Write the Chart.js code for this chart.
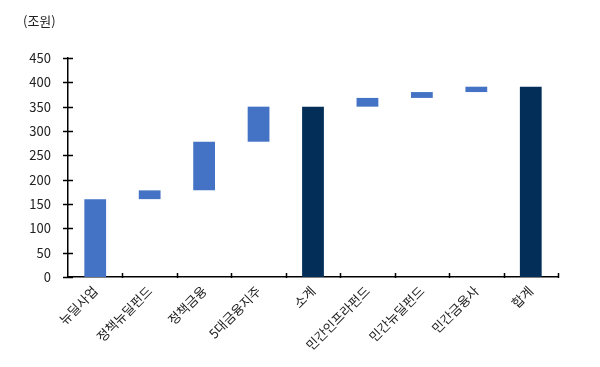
<!DOCTYPE html>
<html>
<head>
<meta charset="utf-8">
<script src="https://cdn.jsdelivr.net/npm/chart.js@4"></script>
<style>
  html, body { margin: 0; padding: 0; background: #fff; }
  #wrap { width: 600px; height: 367px; }
</style>
</head>
<body>
<div id="wrap"><canvas id="c"></canvas></div>
<script>
// categories and values (조원)
const labels = ["뉴딜사업", "정책뉴딜펀드", "정책금융", "5대금융지주", "소계",
                "민간인프라펀드", "민간뉴딜펀드", "민간금융사", "합계"];
const barStart = [0, 160, 178, 278, 0, 350, 368, 380, 0];
const barEnd   = [160, 178, 278, 350, 350, 368, 380, 391, 391];
const isTotal  = [false, false, false, false, true, false, false, false, true];
const yTicks   = [0, 50, 100, 150, 200, 250, 300, 350, 400, 450];

const LIGHT = "#4472C4";
const DARK = "#022E58";
const FONT = "'Noto Sans CJK KR', 'Noto Sans', sans-serif";

// crossing tick marks on both axes + unit label
const axisTicks = {
  id: "axisTicks",
  afterDraw(chart){
    const ctx = chart.ctx;
    const x = chart.scales.x, y = chart.scales.y;
    const area = chart.chartArea;
    ctx.save();
    ctx.strokeStyle = "#000";
    ctx.lineWidth = 1.5;
    ctx.beginPath();
    yTicks.forEach(v => {
      const py = Math.round(y.getPixelForValue(v)) + 0.5;
      ctx.moveTo(area.left - 5, py);
      ctx.lineTo(area.left + 5, py);
    });
    for (let i = 1; i <= labels.length; i++) {
      const px = Math.round(x.getPixelForValue(i - 0.5)) + 0.5;
      ctx.moveTo(px, area.bottom - 4);
      ctx.lineTo(px, area.bottom + 1);
    }
    ctx.stroke();

    ctx.fillStyle = "#222";
    ctx.font = "13px " + FONT;
    ctx.textBaseline = "middle";
    ctx.fillText("(조원)", 23, 21);
    ctx.restore();
  }
};

new Chart(document.getElementById("c"), {
  type: "bar",
  data: {
    labels,
    datasets: [{
      data: barStart.map((s, i) => [s, barEnd[i]]),
      backgroundColor: isTotal.map(t => t ? DARK : LIGHT),
      borderWidth: 0,
      barPercentage: 0.4,
      categoryPercentage: 1
    }]
  },
  options: {
    responsive: true,
    maintainAspectRatio: false,
    animation: false,
    layout: { padding: { top: 58, right: 42, left: 0, bottom: 0 } },
    plugins: {
      legend: { display: false },
      tooltip: { enabled: false }
    },
    scales: {
      x: {
        grid: { display: false, drawTicks: false },
        border: { display: true, color: "#000", width: 1.5 },
        ticks: {
          color: "#222",
          font: { family: FONT, size: 13 },
          minRotation: 45,
          maxRotation: 45,
          padding: 6
        },
        afterFit: s => { s.height = 90; }
      },
      y: {
        min: 0,
        max: 450,
        grid: { display: false, drawTicks: false },
        border: { display: true, color: "#000", width: 1.5 },
        ticks: {
          stepSize: 50,
          color: "#222",
          font: { family: FONT, size: 13 },
          padding: 17
        },
        afterFit: s => { s.width = 68; }
      }
    }
  },
  plugins: [axisTicks]
});
</script>
</body>
</html>
